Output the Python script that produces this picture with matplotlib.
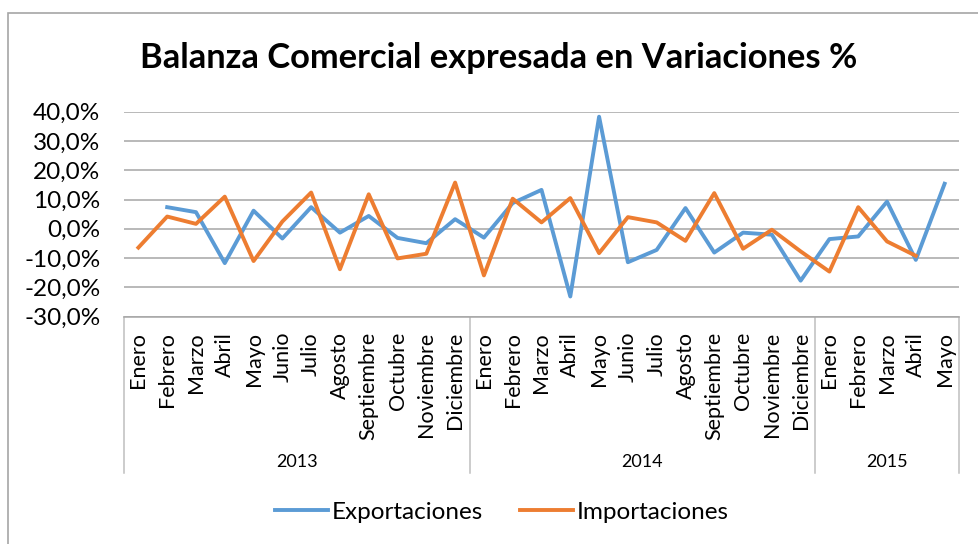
import matplotlib
matplotlib.use("Agg")
import matplotlib.pyplot as plt
import numpy as np
from matplotlib.ticker import FuncFormatter
from matplotlib.patches import Rectangle

plt.rcParams['font.family'] = ['Lato', 'DejaVu Sans']

# data (% variation)
months = ['Enero', 'Febrero', 'Marzo', 'Abril', 'Mayo', 'Junio', 'Julio',
          'Agosto', 'Septiembre', 'Octubre', 'Noviembre', 'Diciembre']
years = ['2013', '2014', '2015']
months_per_year = [12, 12, 5]

exportaciones = [np.nan, 7.4, 5.7, -11.7, 6.2, -3.3, 7.4, -1.3, 4.4, -3.1, -4.9, 3.3,
                 -3.0, 8.8, 13.3, -23.1, 38.3, -11.4, -7.2, 7.1, -8.1, -1.3, -2.0, -17.7,
                 -3.5, -2.6, 9.3, -10.6, 15.4]
importaciones = [-6.4, 4.2, 1.7, 11.0, -11.0, 2.5, 12.4, -13.8, 11.8, -10.1, -8.5, 15.8,
                 -15.9, 10.3, 2.2, 10.5, -8.3, 4.0, 2.2, -4.1, 12.2, -6.8, -0.3, -7.7,
                 -14.6, 7.4, -4.3, -9.2, np.nan]

labels = []
for n in months_per_year:
    labels += months[:n]
x = np.arange(len(labels))

W, H = 979, 544
fig = plt.figure(figsize=(W / 100, H / 100), dpi=100)
ax = fig.add_axes([124 / W, 1 - 316.7 / H, (959 - 124) / W, (316.7 - 111.7) / H])

# outer chart border (cut off at right and bottom)
fig.patches.append(Rectangle((8 / W, -0.1), 1.2, 1 - 13 / H + 0.1, transform=fig.transFigure,
                             fill=False, edgecolor='#A6A6A6', linewidth=1.2))

ax.plot(x, exportaciones, color='#5B9BD5', linewidth=2.8, label='Exportaciones',
        solid_joinstyle='round')
ax.plot(x, importaciones, color='#ED7D31', linewidth=2.8, label='Importaciones',
        solid_joinstyle='round')

ax.set_xlim(-0.5, len(labels) - 0.5)
ax.set_ylim(-30, 40)
ax.set_yticks(np.arange(-30, 41, 10))
ax.yaxis.set_major_formatter(FuncFormatter(lambda v, p: f"{v:.1f}%".replace('.', ',')))
ax.grid(True, axis='y', color='#A6A6A6', linewidth=1.1)
ax.set_axisbelow(True)
for s in ['left', 'right', 'top']:
    ax.spines[s].set_visible(False)
ax.spines['bottom'].set_color('#A6A6A6')
ax.spines['bottom'].set_linewidth(1.1)
ax.tick_params(axis='y', length=0, pad=17, labelsize=17.5)

ax.set_xticks(x)
ax.set_xticklabels(labels, rotation=90, va='top', ha='center', fontsize=15.5)
ax.tick_params(axis='x', length=0, pad=11)

# multi-level category axis: group separators and year labels
trans = ax.get_xaxis_transform()
bottom = -(473 - 316.7) / (316.7 - 111.7)
edges = np.concatenate([[0], np.cumsum(months_per_year)]) - 0.5
for e in edges:
    ax.plot([e, e], [0, bottom], transform=trans, color='#BFBFBF', linewidth=1.1, clip_on=False)
year_y = -(462 - 316.7) / (316.7 - 111.7)
for i, yr in enumerate(years):
    ax.text((edges[i] + edges[i + 1]) / 2, year_y, yr, transform=trans,
            ha='center', va='center', fontsize=13)

fig.text(499 / W, 1 - 58 / H, 'Balanza Comercial expresada en Variaciones %',
         ha='center', va='center', fontsize=24.8, fontweight='bold')

fig.legend(loc='center', bbox_to_anchor=(502 / W, 1 - 512 / H), ncol=2, frameon=False,
           fontsize=17.5, handlelength=2.2, handletextpad=0.16, columnspacing=1.5)

fig.savefig('out.png', dpi=100)
